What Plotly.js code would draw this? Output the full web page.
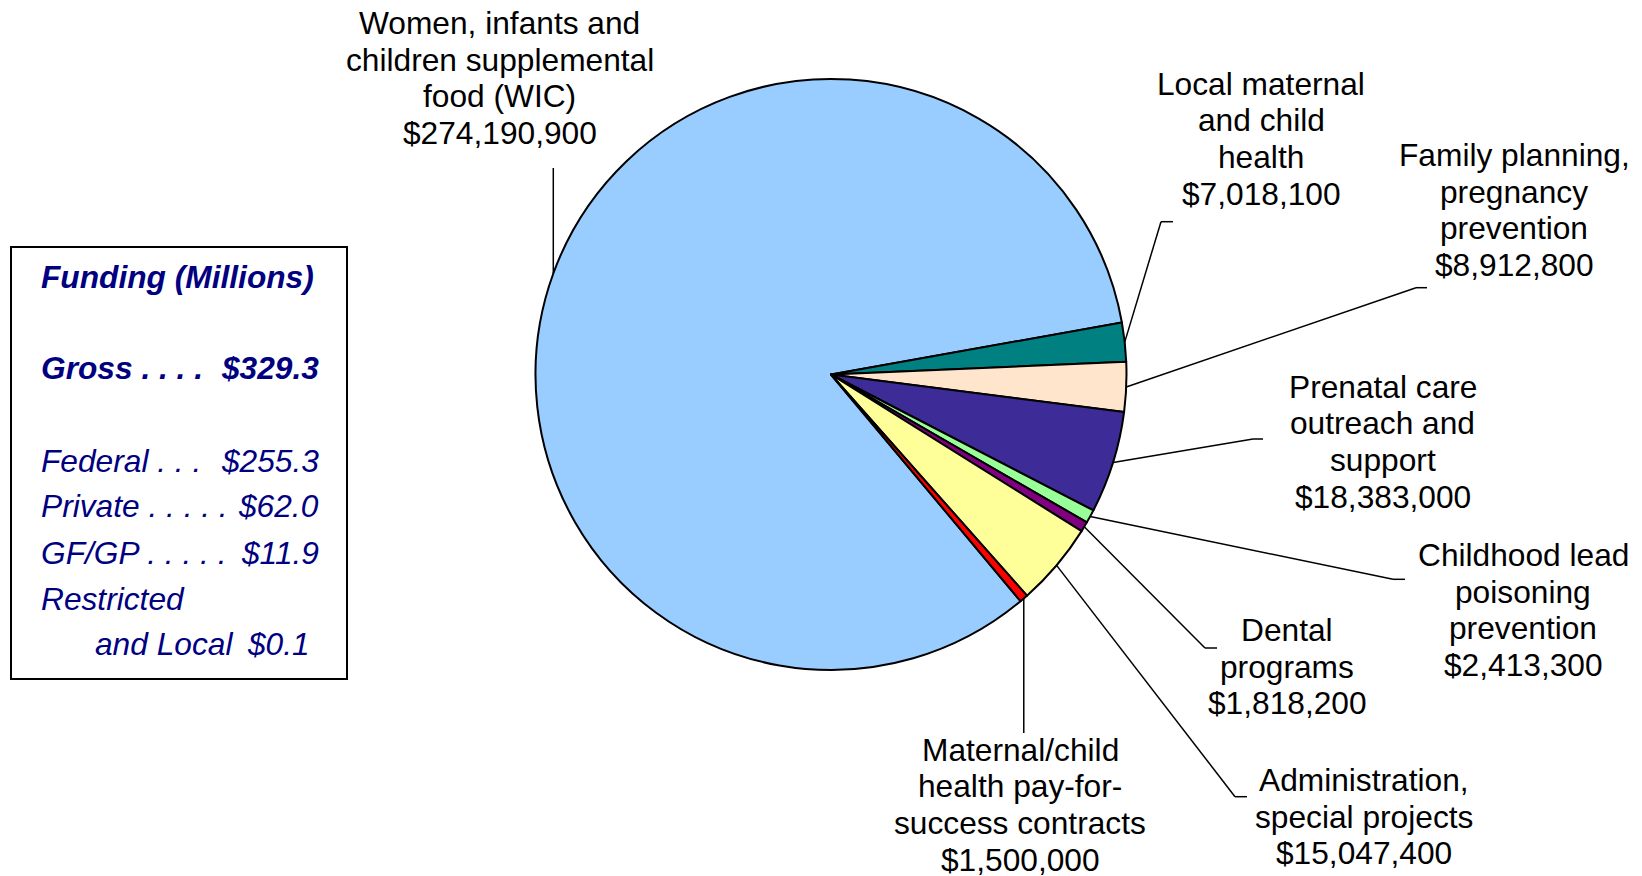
<!DOCTYPE html>
<html>
<head>
<meta charset="utf-8">
<script src="https://cdn.plot.ly/plotly-3.0.1.min.js"></script>
<style>
  html, body { margin: 0; padding: 0; background: #ffffff; }
  #chart { width: 1642px; height: 876px; }
</style>
</head>
<body>
<div id="chart"></div>
<script>
// ---------------- data ----------------
const categories = [
  "Women, infants and children supplemental food (WIC)",
  "Local maternal and child health",
  "Family planning, pregnancy prevention",
  "Prenatal care outreach and support",
  "Childhood lead poisoning prevention",
  "Dental programs",
  "Administration, special projects",
  "Maternal/child health pay-for-success contracts"
];
const labelLines = [
  ["Women, infants and", "children supplemental", "food (WIC)"],
  ["Local maternal", "and child", "health"],
  ["Family planning,", "pregnancy", "prevention"],
  ["Prenatal care", "outreach and", "support"],
  ["Childhood lead", "poisoning", "prevention"],
  ["Dental", "programs"],
  ["Administration,", "special projects"],
  ["Maternal/child", "health pay-for-", "success contracts"]
];
const values = [274190900, 7018100, 8912800, 18383000, 2413300, 1818200, 15047400, 1500000];
const sliceColors = ["#99CCFF", "#008080", "#FFE5CC", "#3D2B97", "#99FF99", "#800080", "#FFFF99", "#FF0000"];

const fundingTitle = "Funding (Millions)";
const fundingRows = ["Gross . . . .", "Federal . . .", "Private . . . . .", "GF/GP . . . . .", "Restricted", "and Local"];
const fundingValues = ["$329.3", "$255.3", "$62.0", "$11.9", "", "$0.1"];

// ---------------- layout (pixels) ----------------
const W = 1642, H = 876;
const CX = 831, CY = 374.5, R = 295.5;
const ROTATION = 140.1;
const labelX = [499.5, 1261, 1514, 1382.5, 1523, 1287, 1364, 1020];
const labelY = [23, 83.5, 155, 386.5, 555, 630, 780, 749.5];
const elbowX = [null, 1161, 1416, 1253, 1393, 1205, 1235, null];
const elbowY = [168, 221.7, 287.7, 439, 579.3, 648, 796.7, 733];
const tickLen = [0, 12, 11, 10, 12, 12, 12, 0];
const LINE_GAP = 36.7;
const FONT = "Liberation Sans, Arial, sans-serif";
const FS = 31.7;

const px = x => x / W;
const py = y => 1 - y / H;

const fmt = v => "$" + v.toLocaleString("en-US");

// slice mid-angles (clockwise from 12 o'clock) derived from values
const total = values.reduce((a, b) => a + b, 0);
let acc = ROTATION;
const midAngles = values.map(v => {
  const span = v / total * 360;
  const mid = acc + span / 2;
  acc += span;
  return mid * Math.PI / 180;
});

const shapes = [];
const annotations = [];

// leader lines
values.forEach((v, i) => {
  const sx = CX + R * Math.sin(midAngles[i]);
  const sy = CY - R * Math.cos(midAngles[i]);
  const ex = elbowX[i] === null ? sx : elbowX[i];
  const ey = elbowY[i];
  shapes.push({type: "line", xref: "paper", yref: "paper",
    x0: px(sx), y0: py(sy), x1: px(ex), y1: py(ey),
    line: {color: "#000000", width: 1.5}});
  if (tickLen[i] > 0) {
    shapes.push({type: "line", xref: "paper", yref: "paper",
      x0: px(ex), y0: py(ey), x1: px(ex + tickLen[i]), y1: py(ey),
      line: {color: "#000000", width: 1.5}});
  }
});

// slice labels (one annotation per line for Excel-like line spacing)
labelLines.forEach((lines, i) => {
  const all = lines.concat([fmt(values[i])]);
  all.forEach((t, k) => {
    annotations.push({xref: "paper", yref: "paper",
      x: px(labelX[i]), y: py(labelY[i] + k * LINE_GAP),
      xanchor: "center", yanchor: "middle", showarrow: false,
      text: t, font: {family: FONT, size: FS, color: "#000000"}});
  });
});

// funding box
shapes.push({type: "rect", xref: "paper", yref: "paper",
  x0: px(11), x1: px(347), y0: py(247), y1: py(679),
  line: {color: "#000000", width: 2}, fillcolor: "rgba(0,0,0,0)"});
const NAVY = "#000080";
annotations.push({xref: "paper", yref: "paper", x: px(39), y: py(277),
  xanchor: "left", yanchor: "middle", showarrow: false,
  text: "<b><i>" + fundingTitle + "</i></b>",
  font: {family: FONT, size: FS, color: NAVY}});
const rowY = [368, 460.5, 506, 552.5, 599, 644];
const rowX = [39, 39, 39, 39, 39, 93];
fundingRows.forEach((t, k) => {
  const bold = k === 0;
  const wrap = s => bold ? "<b><i>" + s + "</i></b>" : "<i>" + s + "</i>";
  annotations.push({xref: "paper", yref: "paper", x: px(rowX[k]), y: py(rowY[k]),
    xanchor: "left", yanchor: "middle", showarrow: false,
    text: wrap(t), font: {family: FONT, size: FS, color: NAVY}});
  if (fundingValues[k]) {
    annotations.push({xref: "paper", yref: "paper", x: px(k === 5 ? 312 : 321), y: py(rowY[k]),
      xanchor: "right", yanchor: "middle", showarrow: false,
      text: wrap(fundingValues[k]), font: {family: FONT, size: FS, color: NAVY}});
  }
});

const trace = {
  type: "pie",
  labels: categories,
  values: values,
  sort: false,
  direction: "clockwise",
  rotation: ROTATION,
  textinfo: "none",
  hoverinfo: "label+value",
  marker: {colors: sliceColors, line: {color: "#000000", width: 2}},
  domain: {x: [px(CX - R), px(CX + R)], y: [py(CY + R), py(CY - R)]},
  showlegend: false
};

const layout = {
  width: W, height: H,
  margin: {l: 0, r: 0, t: 0, b: 0},
  paper_bgcolor: "#ffffff",
  plot_bgcolor: "#ffffff",
  showlegend: false,
  shapes: shapes,
  annotations: annotations
};

Plotly.newPlot("chart", [trace], layout, {displayModeBar: false, staticPlot: true});
</script>
</body>
</html>
